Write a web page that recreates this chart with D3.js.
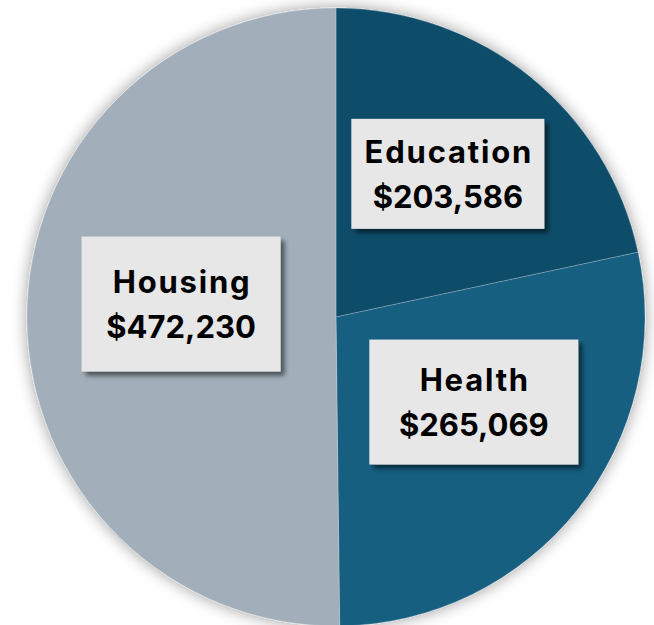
<!DOCTYPE html>
<html>
<head>
<meta charset="utf-8">
<script src="https://cdn.jsdelivr.net/npm/d3@7"></script>
<style>
  body { margin: 0; background: #fff; }
  svg { display: block; }
  .lbl { font-family: Inter, "Noto Sans", sans-serif; font-weight: 700; font-size: 31px; fill: #000; }
  .lbl.name { letter-spacing: 1.8px; }
  .lbl.value { letter-spacing: 0; }
</style>
</head>
<body>
<div id="chart"></div>
<script>
const categories = ["Education", "Health", "Housing"];
const amounts = [203586, 265069, 472230];
const colors = ["#114e6a", "#175f81", "#a2afba"];

// label box placement relative to arc centroid, and box size
const labelLayout = [
  { dx: 5, dy: -11, w: 193, h: 110 },
  { dx: 5, dy: -21, w: 209, h: 125 },
  { dx: 15, dy: -14, w: 199, h: 135 }
];

const W = 654, H = 625;
const cx = 336, cy = 317, radius = 309;

const svg = d3.select("#chart").append("svg")
  .attr("width", W)
  .attr("height", H)
  .attr("viewBox", `0 0 ${W} ${H}`);

const defs = svg.append("defs");

const glow = defs.append("filter").attr("id", "pieGlow")
  .attr("x", "-20%").attr("y", "-20%").attr("width", "140%").attr("height", "140%");
glow.append("feGaussianBlur").attr("in", "SourceAlpha").attr("stdDeviation", 8).attr("result", "b");
glow.append("feComponentTransfer").attr("in", "b").attr("result", "s")
  .append("feFuncA").attr("type", "linear").attr("slope", 0.4);
const gm = glow.append("feMerge");
gm.append("feMergeNode").attr("in", "s");
gm.append("feMergeNode").attr("in", "SourceGraphic");

const drop = defs.append("filter").attr("id", "boxShadow")
  .attr("x", "-20%").attr("y", "-20%").attr("width", "140%").attr("height", "140%");
drop.append("feGaussianBlur").attr("in", "SourceAlpha").attr("stdDeviation", 2.5).attr("result", "b");
drop.append("feOffset").attr("in", "b").attr("dx", 4).attr("dy", 4).attr("result", "o");
drop.append("feComponentTransfer").attr("in", "o").attr("result", "s")
  .append("feFuncA").attr("type", "linear").attr("slope", 0.55);
const dm = drop.append("feMerge");
dm.append("feMergeNode").attr("in", "s");
dm.append("feMergeNode").attr("in", "SourceGraphic");

const rows = categories.map((c, i) => ({ name: c, value: amounts[i], color: colors[i], layout: labelLayout[i] }));

const pie = d3.pie().value(d => d.value).sort(null);
const arc = d3.arc().innerRadius(0).outerRadius(radius);
const labelArc = d3.arc().innerRadius(radius * 0.55).outerRadius(radius * 0.55);

const arcs = pie(rows);

const g = svg.append("g").attr("transform", `translate(${cx},${cy})`);

g.append("g").attr("filter", "url(#pieGlow)")
  .selectAll("path")
  .data(arcs)
  .enter()
  .append("path")
  .attr("d", arc)
  .attr("fill", d => d.data.color)
  .attr("stroke", "rgba(255,255,255,0.3)")
  .attr("stroke-width", 0.75);

const fmt = d3.format("$,");

const labels = g.selectAll("g.label")
  .data(arcs)
  .enter()
  .append("g")
  .attr("class", "label")
  .attr("transform", d => {
    const [x, y] = labelArc.centroid(d);
    return `translate(${x + d.data.layout.dx},${y + d.data.layout.dy})`;
  });

labels.append("rect")
  .attr("x", d => -d.data.layout.w / 2)
  .attr("y", d => -d.data.layout.h / 2)
  .attr("width", d => d.data.layout.w)
  .attr("height", d => d.data.layout.h)
  .attr("fill", "#e7e7e7")
  .attr("filter", "url(#boxShadow)");

labels.append("text")
  .attr("class", "lbl name")
  .attr("text-anchor", "middle")
  .attr("x", 1)
  .attr("y", -11)
  .text(d => d.data.name);

labels.append("text")
  .attr("class", "lbl value")
  .attr("text-anchor", "middle")
  .attr("y", 34)
  .text(d => fmt(d.data.value));
</script>
</body>
</html>
